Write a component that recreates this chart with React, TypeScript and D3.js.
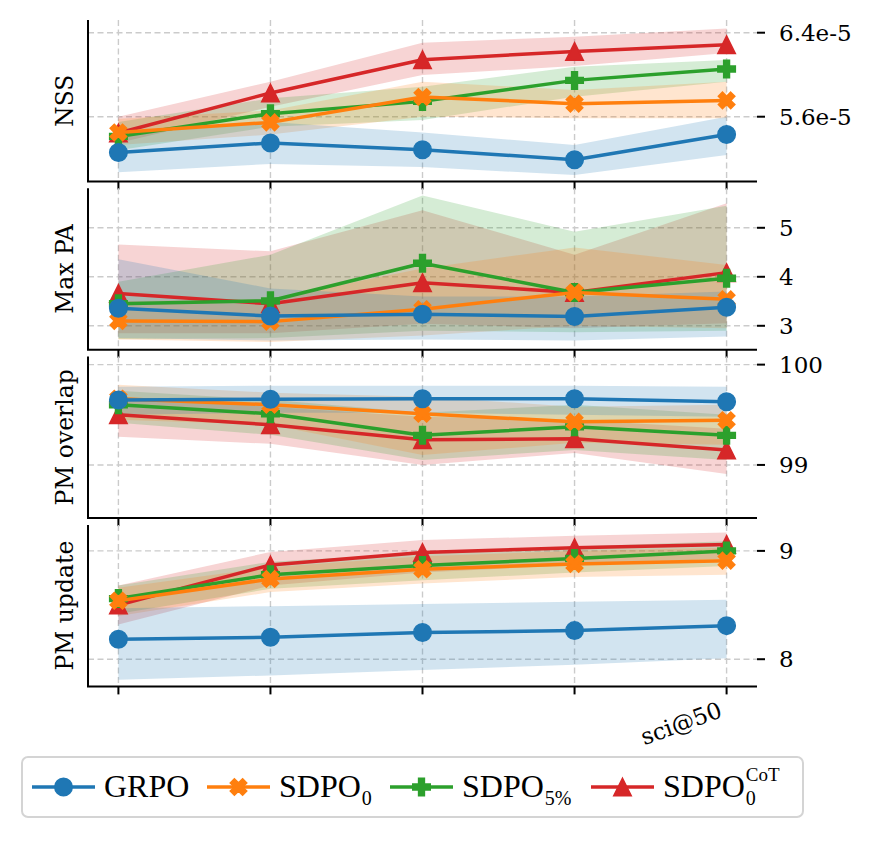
import * as d3 from 'd3';
import React, { useEffect, useRef } from 'react';

// x positions (only the last one is labelled)
const xLabels = ['', '', '', '', 'sci@50'];

const methodNames = ['GRPO', 'SDPO', 'SDPO', 'SDPO'];
const methodSub = ['', '0', '5%', '0'];
const methodSup = ['', '', '', 'CoT'];
const colors = ['#1f77b4', '#ff7f0e', '#2ca02c', '#d62728'];
const markers = ['circle', 'x', 'plus', 'triangle'];

const metricLabels = ['NSS', 'Max PA', 'PM overlap', 'PM update'];
const yDomains = [
  [4.983e-5, 6.521e-5],
  [2.51, 5.806],
  [98.47, 100.08],
  [7.749, 9.24],
];
const yTicks = [[5.6e-5, 6.4e-5], [3, 4, 5], [99, 100], [8, 9]];

// rows: GRPO, SDPO_0, SDPO_5%, SDPO_0^CoT
const nssMean = [
  [5.26e-5, 5.35e-5, 5.286e-5, 5.19e-5, 5.43e-5],
  [5.45e-5, 5.546e-5, 5.788e-5, 5.724e-5, 5.755e-5],
  [5.412e-5, 5.629e-5, 5.746e-5, 5.946e-5, 6.054e-5],
  [5.445e-5, 5.826e-5, 6.143e-5, 6.222e-5, 6.286e-5],
];
const nssLo = [
  [5.07e-5, 5.15e-5, 5.12e-5, 5.045e-5, 5.235e-5],
  [5.33e-5, 5.43e-5, 5.6e-5, 5.585e-5, 5.585e-5],
  [5.28e-5, 5.505e-5, 5.569e-5, 5.79e-5, 5.933e-5],
  [5.35e-5, 5.695e-5, 5.997e-5, 6.083e-5, 6.207e-5],
];
const nssHi = [
  [5.45e-5, 5.55e-5, 5.45e-5, 5.33e-5, 5.6e-5],
  [5.58e-5, 5.66e-5, 5.933e-5, 5.855e-5, 5.933e-5],
  [5.55e-5, 5.775e-5, 5.886e-5, 6.076e-5, 6.14e-5],
  [5.6e-5, 5.933e-5, 6.305e-5, 6.362e-5, 6.44e-5],
];

const paMean = [
  [3.357, 3.2, 3.235, 3.19, 3.38],
  [3.1, 3.085, 3.337, 3.68, 3.54],
  [3.45, 3.51, 4.276, 3.68, 3.97],
  [3.66, 3.45, 3.88, 3.68, 4.085],
];
const paLo = [
  [2.75, 2.7, 2.72, 2.7, 2.78],
  [2.72, 2.67, 2.8, 3.0, 2.95],
  [2.73, 2.75, 2.9, 2.87, 2.9],
  [2.85, 2.85, 3.04, 2.95, 3.05],
];
const paHi = [
  [4.36, 3.76, 3.6, 3.6, 3.7],
  [3.5, 3.55, 4.17, 4.6, 4.24],
  [3.9, 4.45, 5.66, 4.92, 5.45],
  [4.66, 4.52, 5.36, 4.45, 5.5],
];

const overlapMean = [
  [99.648, 99.655, 99.66, 99.66, 99.63],
  [99.66, 99.6, 99.51, 99.43, 99.446],
  [99.6, 99.51, 99.295, 99.38, 99.295],
  [99.5, 99.4, 99.25, 99.26, 99.15],
];
const overlapLo = [
  [99.5, 99.52, 99.52, 99.5, 99.48],
  [99.45, 99.4, 99.1, 99.22, 99.2],
  [99.42, 99.3, 99.05, 99.15, 99.05],
  [99.28, 99.21, 99.0, 99.12, 98.91],
];
const overlapHi = [
  [99.78, 99.79, 99.79, 99.79, 99.78],
  [99.8, 99.72, 99.68, 99.58, 99.6],
  [99.74, 99.65, 99.52, 99.6, 99.5],
  [99.68, 99.58, 99.48, 99.45, 99.36],
];

const updateMean = [
  [8.185, 8.203, 8.246, 8.264, 8.31],
  [8.54, 8.74, 8.83, 8.88, 8.91],
  [8.56, 8.78, 8.865, 8.93, 9.0],
  [8.5, 8.87, 8.985, 9.03, 9.06],
];
const updateLo = [
  [7.81, 7.85, 7.9, 7.95, 8.01],
  [8.4, 8.62, 8.7, 8.76, 8.78],
  [8.42, 8.65, 8.73, 8.8, 8.86],
  [8.32, 8.68, 8.8, 8.87, 8.93],
];
const updateHi = [
  [8.47, 8.49, 8.51, 8.53, 8.55],
  [8.66, 8.85, 8.95, 9.0, 9.03],
  [8.68, 8.9, 8.98, 9.04, 9.09],
  [8.68, 8.99, 9.1, 9.14, 9.17],
];

const means = [nssMean, paMean, overlapMean, updateMean];
const lows = [nssLo, paLo, overlapLo, updateLo];
const highs = [nssHi, paHi, overlapHi, updateHi];

const W = 877;
const H = 841;
const SERIF = "'DejaVu Serif', serif";
const LEGEND_FONT = "'Liberation Serif', serif";

const markerPath = (type, s) => {
  const h = s / 2;
  const a = s / 6;
  if (type === 'triangle') return `M0,${-h}L${h},${h}L${-h},${h}Z`;
  if (type === 'plus' || type === 'x') {
    return `M${-a},${-h}L${a},${-h}L${a},${-a}L${h},${-a}L${h},${a}L${a},${a}L${a},${h}L${-a},${h}L${-a},${a}L${-h},${a}L${-h},${-a}L${-a},${-a}Z`;
  }
  return d3.symbol(d3.symbolCircle, Math.PI * h * h)();
};

const drawMarker = (g, type, color, x, y, s) => {
  g.append('path')
    .attr('d', markerPath(type, s))
    .attr('transform', `translate(${x},${y})${type === 'x' ? ' rotate(45)' : ''}`)
    .attr('fill', color)
    .attr('stroke', color)
    .attr('stroke-width', 1.5);
};

const App = () => {
  const ref = useRef<SVGSVGElement | null>(null);

  useEffect(() => {
    if (!ref.current) return;
    const svg = d3.select(ref.current);
    svg.selectAll('*').remove();

    const left = 88;
    const right = 757;
    const xScale = d3.scaleLinear().domain([-0.2, 4.2]).range([left, right]);
    const xs = d3.range(xLabels.length);

    metricLabels.forEach((label, p) => {
      const top = 20 + p * 168.3;
      const bottom = top + 161.5;
      const yScale = d3.scaleLinear().domain(yDomains[p]).range([bottom, top]);
      const g = svg.append('g');

      // grid
      xs.forEach((i) => {
        g.append('line')
          .attr('x1', xScale(i)).attr('x2', xScale(i))
          .attr('y1', top).attr('y2', bottom)
          .attr('stroke', '#cbcbcb').attr('stroke-width', 1.4).attr('stroke-dasharray', '6,3.5');
      });
      yTicks[p].forEach((t) => {
        g.append('line')
          .attr('x1', left).attr('x2', right)
          .attr('y1', yScale(t)).attr('y2', yScale(t))
          .attr('stroke', '#cbcbcb').attr('stroke-width', 1.4).attr('stroke-dasharray', '6,3.5');
      });

      const order = [3, 2, 1, 0];

      // bands
      order.forEach((m) => {
        const area = d3
          .area<number>()
          .x((d, i) => xScale(i))
          .y0((d, i) => yScale(lows[p][m][i]))
          .y1((d, i) => yScale(highs[p][m][i]));
        g.append('path')
          .attr('d', area(means[p][m]))
          .attr('fill', colors[m])
          .attr('fill-opacity', 0.2);
      });

      // lines + markers
      order.forEach((m) => {
        const line = d3
          .line<number>()
          .x((d, i) => xScale(i))
          .y((d) => yScale(d));
        g.append('path')
          .attr('d', line(means[p][m]))
          .attr('fill', 'none')
          .attr('stroke', colors[m])
          .attr('stroke-width', 3.5)
          .attr('stroke-linejoin', 'round');
        means[p][m].forEach((v, i) => drawMarker(g, markers[m], colors[m], xScale(i), yScale(v), 17.5));
      });

      // spines
      g.append('line').attr('x1', left).attr('x2', left).attr('y1', top).attr('y2', bottom)
        .attr('stroke', '#000').attr('stroke-width', 2);
      g.append('line').attr('x1', left - 1).attr('x2', right).attr('y1', bottom).attr('y2', bottom)
        .attr('stroke', '#000').attr('stroke-width', 2);

      // x ticks
      xs.forEach((i) => {
        g.append('line')
          .attr('x1', xScale(i)).attr('x2', xScale(i))
          .attr('y1', bottom).attr('y2', bottom + 8)
          .attr('stroke', '#000').attr('stroke-width', 2);
      });

      // right y ticks
      yTicks[p].forEach((t) => {
        g.append('line')
          .attr('x1', right).attr('x2', right + 8)
          .attr('y1', yScale(t)).attr('y2', yScale(t))
          .attr('stroke', '#000').attr('stroke-width', 2);
        g.append('text')
          .attr('x', right + 22)
          .attr('y', yScale(t))
          .attr('dy', '0.36em')
          .attr('font-family', SERIF)
          .attr('font-size', 23)
          .text(p === 0 ? `${(t * 1e5).toFixed(1)}e-5` : d3.format('d')(t));
      });

      // y label
      g.append('text')
        .attr('transform', `translate(73,${(top + bottom) / 2}) rotate(-90)`)
        .attr('text-anchor', 'middle')
        .attr('font-family', SERIF)
        .attr('font-size', 23.5)
        .text(label);

      // x tick labels on the last panel
      if (p === metricLabels.length - 1) {
        xs.forEach((i) => {
          if (!xLabels[i]) return;
          g.append('text')
            .attr('transform', `translate(${xScale(i) - 3},${bottom + 30}) rotate(-20)`)
            .attr('text-anchor', 'end')
            .attr('font-family', SERIF)
            .attr('font-size', 23)
            .text(xLabels[i]);
        });
      }
    });

    // legend
    const lg = svg.append('g');
    lg.append('rect')
      .attr('x', 22).attr('y', 757).attr('width', 781).attr('height', 60)
      .attr('rx', 6).attr('fill', '#fff').attr('stroke', '#d4d4d4').attr('stroke-width', 2);
    const itemX = [32, 207, 390, 591];
    const ly = 787;
    methodNames.forEach((name, m) => {
      const x0 = itemX[m];
      lg.append('line')
        .attr('x1', x0).attr('x2', x0 + 63).attr('y1', ly).attr('y2', ly)
        .attr('stroke', colors[m]).attr('stroke-width', 3.5);
      drawMarker(lg, markers[m], colors[m], x0 + 31.5, ly, 17.5);
      const t = lg.append('text')
        .attr('x', x0 + 72).attr('y', ly + 10)
        .attr('font-family', LEGEND_FONT)
        .attr('font-size', 32)
        .text(name);
      const len = (t.node() as SVGTextElement).getComputedTextLength();
      if (methodSub[m]) {
        lg.append('text')
          .attr('x', x0 + 72 + len + 1).attr('y', ly + 18)
          .attr('font-family', LEGEND_FONT)
          .attr('font-size', 20)
          .text(methodSub[m]);
      }
      if (methodSup[m]) {
        lg.append('text')
          .attr('x', x0 + 72 + len + 1).attr('y', ly - 6)
          .attr('font-family', LEGEND_FONT)
          .attr('font-size', 19)
          .text(methodSup[m]);
      }
    });
  }, []);

  return (
    <svg
      ref={ref}
      width={W}
      height={H}
      style={{ position: 'absolute', left: 0, top: 0, background: '#fff' }}
    />
  );
};

export default App;
